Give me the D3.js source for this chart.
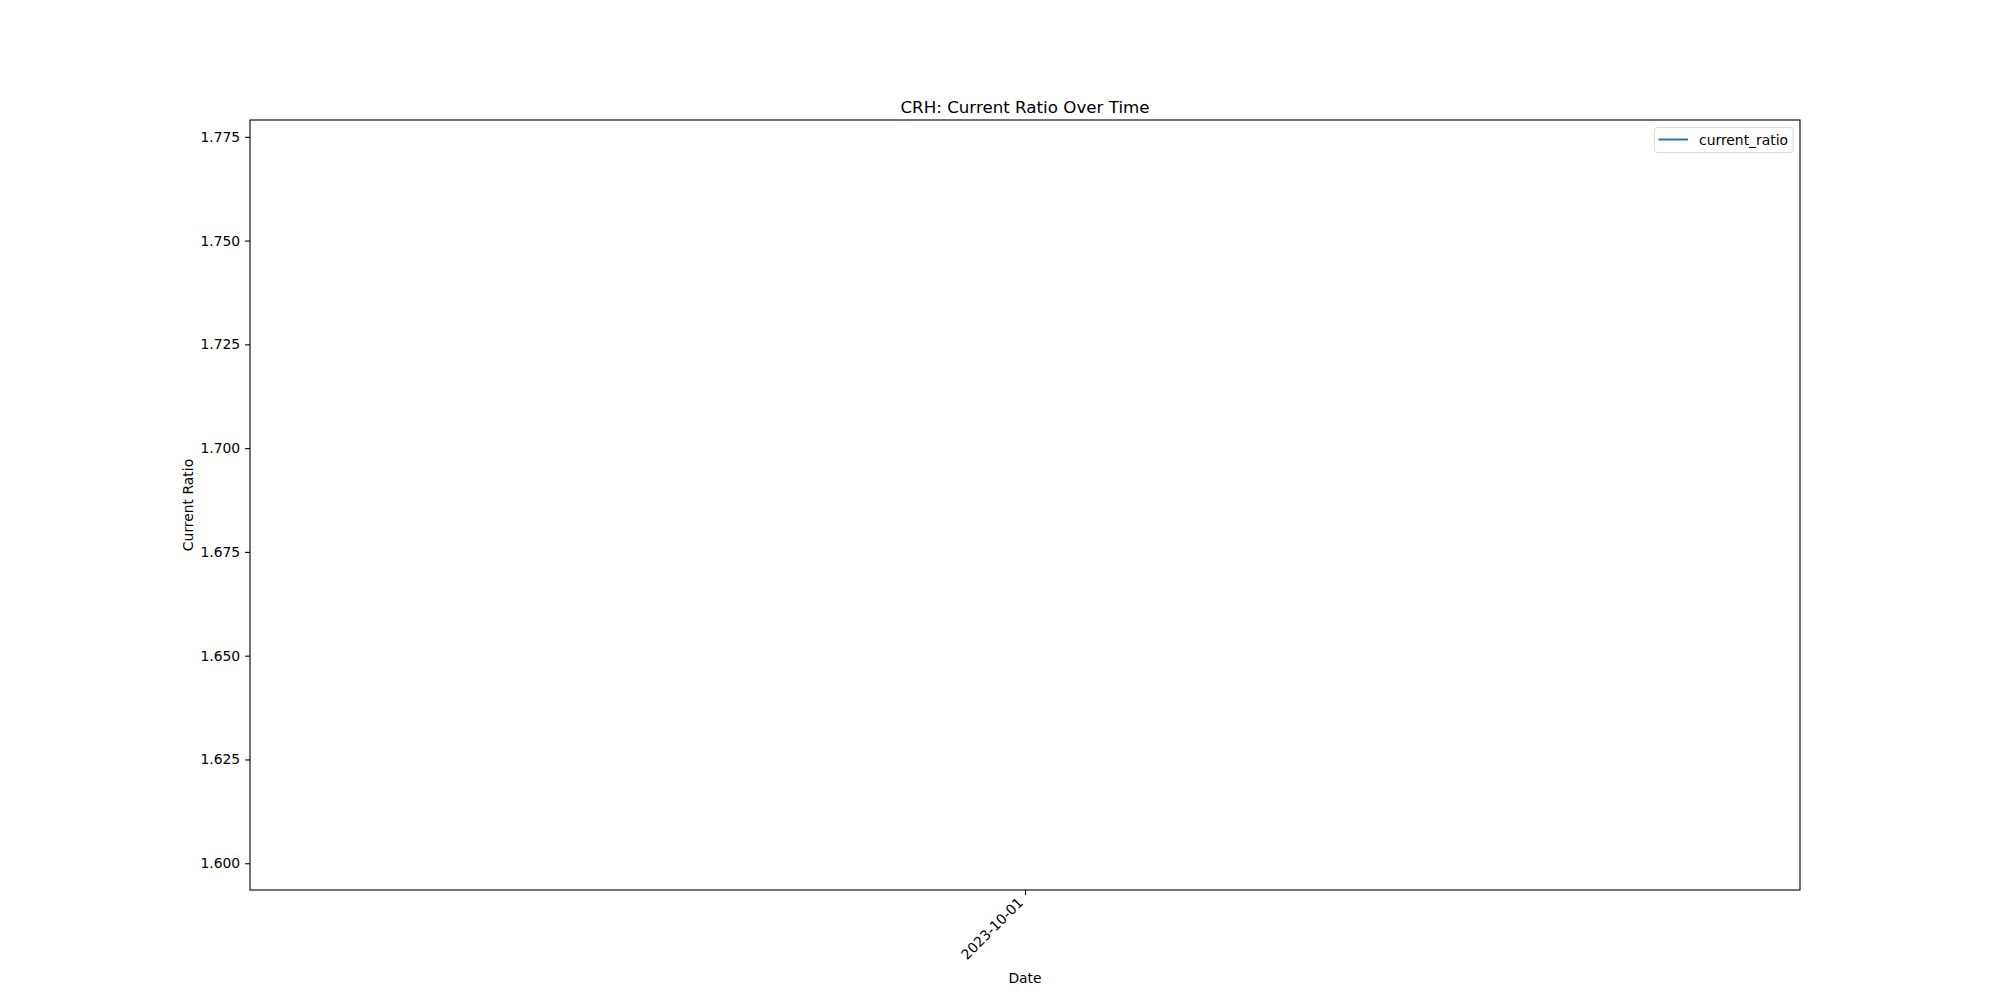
<!DOCTYPE html>
<html><head><meta charset="utf-8">
<script src="https://cdn.jsdelivr.net/npm/d3@7"></script>
<style>body{margin:0;background:#fff}svg{display:block}text{font-family:"DejaVu Sans",sans-serif;fill:#000}</style>
</head><body>
<script>
const dates = ["2023-10-01"];
const currentRatio = [1.6863];
const yTicks = [1.600, 1.625, 1.650, 1.675, 1.700, 1.725, 1.750, 1.775];
const seriesName = "current_ratio";
const titleText = "CRH: Current Ratio Over Time";

const W = 2000, H = 1000;
const m = {left: 250, right: 1800, top: 120, bottom: 890};
const svg = d3.select("body").append("svg").attr("width", W).attr("height", H);
const parse = d3.timeParse("%Y-%m-%d");
const data = dates.map((d, i) => ({date: parse(d), v: currentRatio[i]}));

// single point: matplotlib expands limits around the lone value
const d0 = data[0].date;
const x = d3.scaleTime()
  .domain([d3.timeDay.offset(d0, -730), d3.timeDay.offset(d0, 730)])
  .range([m.left, m.right]);
const v = currentRatio[0];
const y = d3.scaleLinear().domain([v * 0.945, v * 1.055]).range([m.bottom, m.top]);

// line (a single point draws nothing, like the original)
svg.append("path").datum(data)
  .attr("d", d3.line().x(d => x(d.date)).y(d => y(d.v)))
  .attr("fill", "none").attr("stroke", "#1f77b4").attr("stroke-width", 2);

// y axis
const ya = svg.append("g").attr("transform", `translate(${m.left},0)`)
  .call(d3.axisLeft(y).tickValues(yTicks).tickFormat(d3.format(".3f")).tickSize(4.9).tickPadding(4.9));
ya.select(".domain").remove();
ya.selectAll("line").attr("stroke", "#000").attr("stroke-width", 1.1);
ya.selectAll("text").attr("font-size", "13.9px").attr("font-family", "DejaVu Sans");

// x axis
const xa = svg.append("g").attr("transform", `translate(0,${m.bottom})`)
  .call(d3.axisBottom(x).tickValues(data.map(d => d.date)).tickFormat(d3.timeFormat("%Y-%m-%d")).tickSize(4.9).tickPadding(4.9));
xa.select(".domain").remove();
xa.selectAll("line").attr("stroke", "#000").attr("stroke-width", 1.1);
xa.selectAll("text").attr("font-size", "13.9px").attr("font-family", "DejaVu Sans")
  .attr("text-anchor", "end").attr("dy", null).attr("y", 0)
  .attr("transform", "translate(-1.5,13.5) rotate(-45)");

// frame
svg.append("rect").attr("x", m.left).attr("y", m.top)
  .attr("width", m.right - m.left).attr("height", m.bottom - m.top)
  .attr("fill", "none").attr("stroke", "#000").attr("stroke-width", 1.1);

// title & labels
svg.append("text").attr("x", (m.left + m.right) / 2).attr("y", 112.5)
  .attr("text-anchor", "middle").attr("font-size", "16.7px").text(titleText);
svg.append("text").attr("x", (m.left + m.right) / 2).attr("y", 983)
  .attr("text-anchor", "middle").attr("font-size", "13.9px").text("Date");
svg.append("text").attr("transform", `translate(192.5,${(m.top + m.bottom) / 2}) rotate(-90)`)
  .attr("text-anchor", "middle").attr("font-size", "13.9px").text("Current Ratio");

// legend
const lg = svg.append("g");
lg.append("rect").attr("x", 1654.5).attr("y", 127.5).attr("width", 138.5).attr("height", 25)
  .attr("rx", 3).attr("fill", "#fff").attr("fill-opacity", 0.8).attr("stroke", "#d9d9d9").attr("stroke-width", 1);
lg.append("line").attr("x1", 1658.5).attr("x2", 1688).attr("y1", 139.5).attr("y2", 139.5)
  .attr("stroke", "#1f77b4").attr("stroke-width", 2);
lg.append("text").attr("x", 1699).attr("y", 144.5).attr("font-size", "13.9px").text(seriesName);
</script>
</body></html>
